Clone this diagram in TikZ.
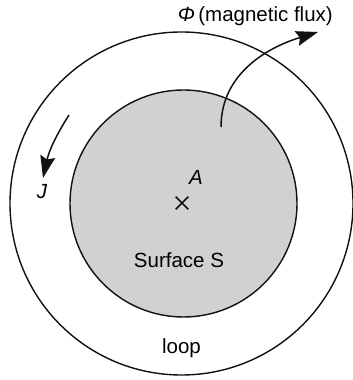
\documentclass[tikz,border=0pt]{standalone}
\usepackage{fontspec}
\setmainfont{Liberation Sans}
\usepackage{xcolor}
\usetikzlibrary{positioning, arrows.meta, shapes.misc}
\definecolor{cSurf}{HTML}{D1D1D1}
\definecolor{cLine}{HTML}{111111}
\tikzset{
  ring/.style={
    circle, draw=cLine, line width=1.4pt,
    inner sep=0pt, outer sep=0pt
  },
  flow/.style={
    -{Stealth[inset=3pt, length=22pt, width=15pt]},
    line width=1.5pt, color=cLine
  },
  lbl/.style={
    font=\fontsize{20.5}{24}\selectfont, inner sep=0pt
  }
}

\begin{document}
\begin{tikzpicture}[x=1pt, y=1pt]

\useasboundingbox (0,0) rectangle (353,380);

%% ── Circles ──────────────────────────────────────────────────────

% loop
\node[ring, minimum size=343pt] (loop) at (181.5,176.5) {};

% surface S
\node[ring, fill=cSurf, minimum size=227pt] (surf) at (183.5,176.5) {};

%% ── Labels ───────────────────────────────────────────────────────

\node[cross out, draw=cLine, line width=1.6pt, minimum size=11pt,
      inner sep=0pt] (ctr) at (182,177) {};
\node[lbl, anchor=base] (pA) at (196,195) {\textit{A}};
\node[lbl, anchor=base] (surfL) at (179,112) {Surface S};
\node[lbl, anchor=base] (loopL) at (181.5,27) {loop};
\node[lbl, anchor=base east] (flux) at (333,358)
  {\textit{Φ}\,(magnetic flux)};
\node[lbl] (pJ) at (42,188) {\textit{J}};

%% ── Arrows ───────────────────────────────────────────────────────

% flux through the surface
\coordinate (fluxS) at (221,253);
\coordinate (fluxE) at (318,348);
\draw[flow] (fluxS) to[out=90, in=197] (fluxE);

% current along the loop
\coordinate (curS) at (69,265);
\coordinate (curE) at (43,202);
\draw[flow] (curS) to[bend right=10] (curE);

\end{tikzpicture}
\end{document}
